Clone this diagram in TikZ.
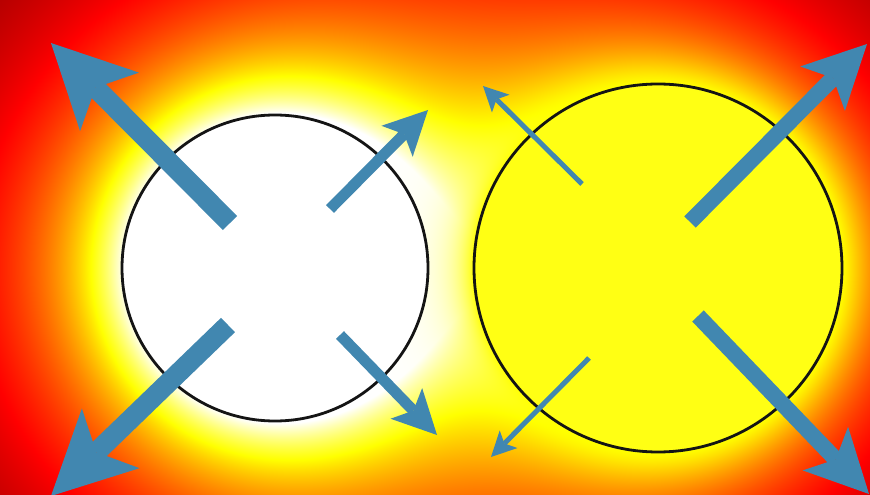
\documentclass[tikz,border=0pt]{standalone}
\usetikzlibrary{arrows.meta}
% scalar heat field: u from left disc, v from right disc, hot colour map
\pgfdeclarefunctionalshading{heatfield}{\pgfpoint{0bp}{0bp}}{\pgfpoint{870bp}{495bp}}{}{
495 exch sub 268 sub dup mul
exch dup 275 sub dup mul
exch 658 sub dup mul
2 index add
3 1 roll add
1 add -0.8 exp 2880 mul
exch 1 add dup -0.8 exp 2353 mul
exch sqrt 184 sub -22 div 2.71828 exch exp
3 1 roll
2 copy mul 0.4 mul neg 3 1 roll add add
dup 1 gt {pop 1} if
dup 0.75 exch sub 3 -1 roll mul add
dup 1 gt {pop 1} if dup 0 lt {pop 0} if
dup 0.375 div dup 1 gt {pop 1} if
exch dup 0.375 sub 0.375 div dup 0 lt {pop 0} if dup 1 gt {pop 1} if
exch 0.75 sub 0.25 div dup 0 lt {pop 0} if
}
\definecolor{arrowblue}{RGB}{65,135,176}
\definecolor{ringline}{RGB}{20,20,20}
\definecolor{discyellow}{RGB}{255,255,20}
\begin{document}
\begin{tikzpicture}[x=1bp,y=-1bp,
  ring/.style={circle,draw=ringline,line width=2.8bp,inner sep=0pt,outer sep=0pt},
  bigarrow/.style={draw=arrowblue,line width=20bp,-{Stealth[length=83bp,width=83bp,inset=20bp,line width=0pt]}},
  midarrow/.style={draw=arrowblue,line width=11bp,-{Stealth[length=44bp,width=44bp,inset=10bp,line width=0pt]}},
  thickarrow/.style={draw=arrowblue,line width=16bp,-{Stealth[length=63bp,width=63bp,inset=15bp,line width=0pt]}},
  thinarrow/.style={draw=arrowblue,line width=5bp,-{Stealth[length=25bp,width=25bp,inset=6bp,line width=0pt]}}]
\useasboundingbox (0,0) rectangle (870,495);
\clip (0,0) rectangle (870,495);
\node[inner sep=0pt,outer sep=0pt,anchor=north west] (field) at (0,0) {\pgfuseshading{heatfield}};
\node[ring,fill=white,minimum size=306bp] (left) at (275,268) {};
\node[ring,fill=discyellow,minimum size=368bp] (right) at (658,268) {};
% arrow end points
\coordinate (a1t) at (230,223); \coordinate (a1h) at (51,43);
\coordinate (a2t) at (330,209); \coordinate (a2h) at (428,110);
\coordinate (a3t) at (228,325); \coordinate (a3h) at (51,496);
\coordinate (a4t) at (340,335); \coordinate (a4h) at (437,435);
\coordinate (b1t) at (582,184); \coordinate (b1h) at (483,86);
\coordinate (b2t) at (690,222); \coordinate (b2h) at (867,44);
\coordinate (b3t) at (589,358); \coordinate (b3h) at (491,457);
\coordinate (b4t) at (698,316); \coordinate (b4h) at (869,494);
\draw[bigarrow] (a1t) -- (a1h);
\draw[midarrow] (a2t) -- (a2h);
\draw[bigarrow] (a3t) -- (a3h);
\draw[midarrow] (a4t) -- (a4h);
\draw[thinarrow] (b1t) -- (b1h);
\draw[thickarrow] (b2t) -- (b2h);
\draw[thinarrow] (b3t) -- (b3h);
\draw[thickarrow] (b4t) -- (b4h);
\end{tikzpicture}
\end{document}
